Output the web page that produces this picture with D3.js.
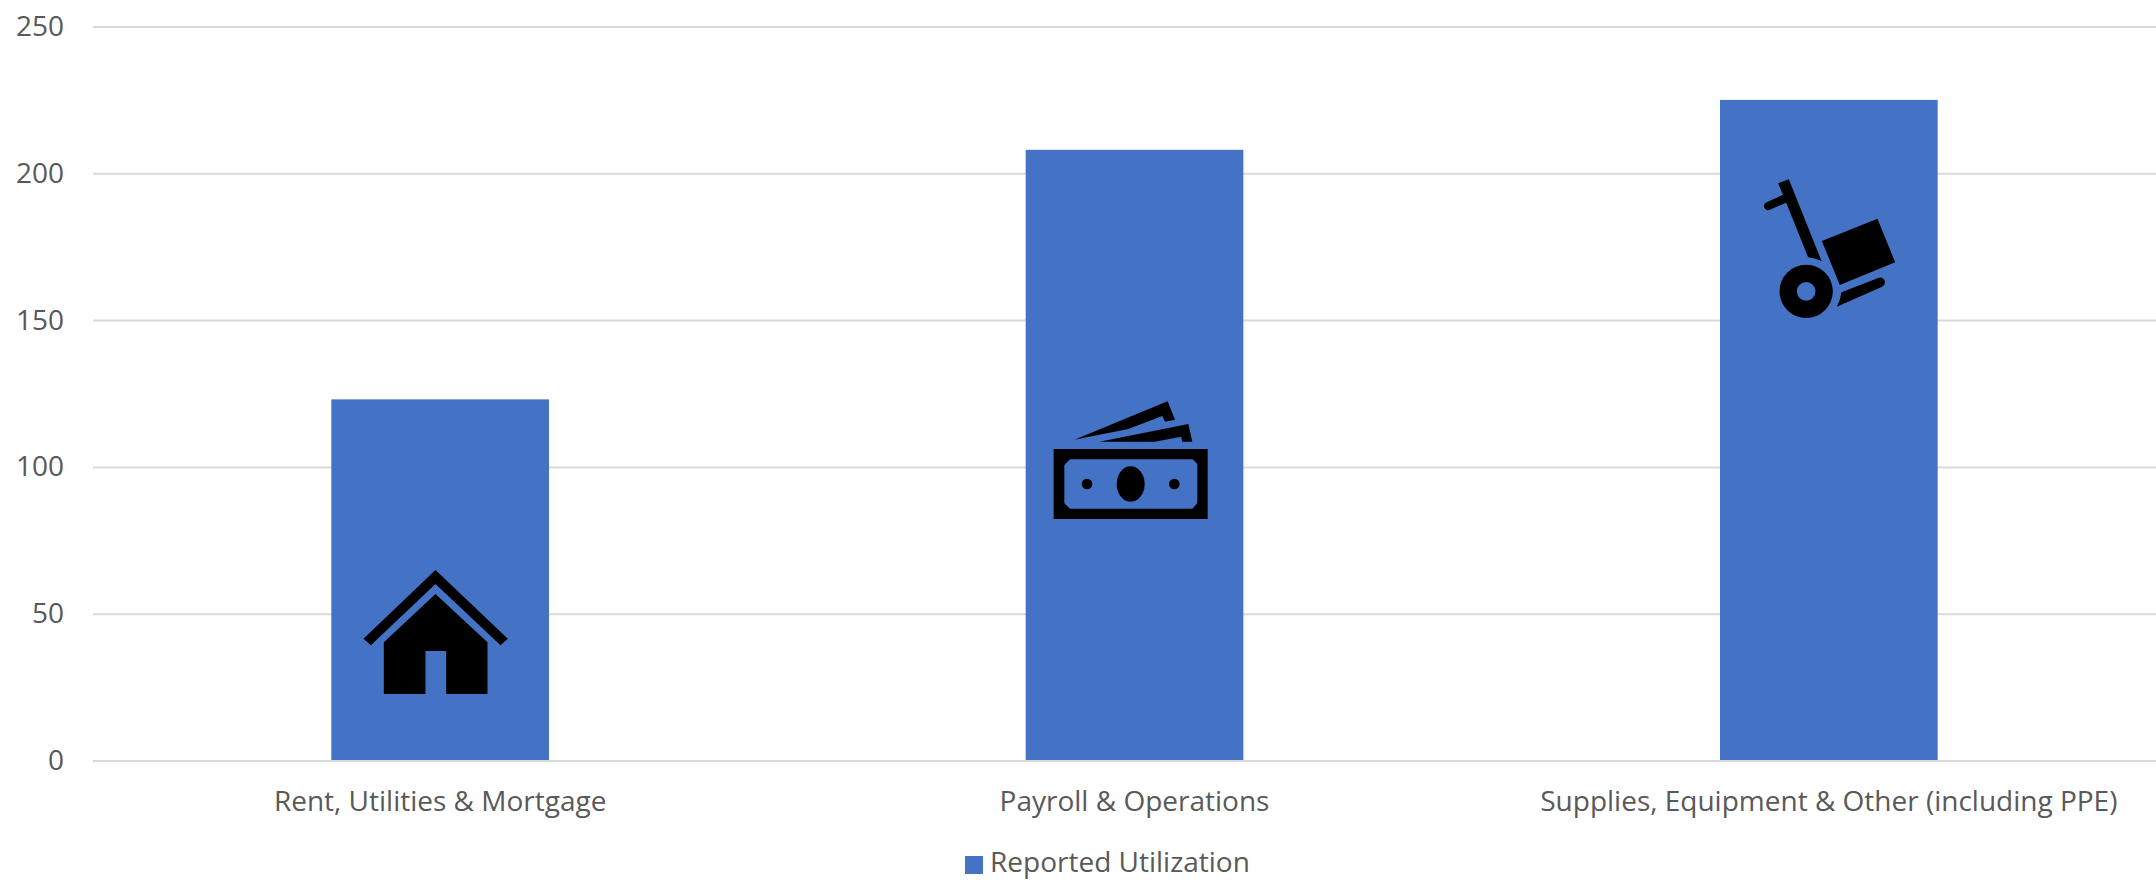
<!DOCTYPE html>
<html><head><meta charset="utf-8">
<script src="https://cdn.jsdelivr.net/npm/d3@7/dist/d3.min.js"></script>
<style>html,body{margin:0;padding:0;background:#fff;overflow:hidden}svg{display:block}text{font-family:"Open Sans",sans-serif;fill:#595959}</style>
</head><body><svg id="c" width="2156" height="880"></svg>
<script>
const categories=["Rent, Utilities & Mortgage","Payroll & Operations","Supplies, Equipment & Other (including PPE)"];
const values=[123,208,225];
const yTicks=[0,50,100,150,200,250];
const seriesName="Reported Utilization";

const svg=d3.select("#c");
const y=d3.scaleLinear().domain([0,250]).range([760.5,26.5]);
const p=0.6865;
const x=d3.scaleBand().domain(categories).range([93,2176]).paddingInner(p).paddingOuter(p/2);
const fs=28;

// grid
const yAxis=d3.axisLeft(y).tickValues(yTicks).tickSize(-2083).tickPadding(0);
const gy=svg.append("g").attr("transform","translate(93,0)").call(yAxis);
gy.select(".domain").remove();
gy.selectAll(".tick line").attr("stroke","#d9d9d9").attr("stroke-width",2);
gy.selectAll(".tick text").attr("x",-29).attr("font-size",fs).style("fill","#595959").attr("font-family",'"Open Sans",sans-serif');

// bars
svg.append("g").selectAll("rect").data(values).join("rect")
  .attr("x",(d,i)=>x(categories[i])).attr("width",x.bandwidth())
  .attr("y",d=>y(d)).attr("height",d=>y(0)-y(d)).attr("fill","#4472c4");

// x axis
const xAxis=d3.axisBottom(x).tickSize(0).tickPadding(0);
const gx=svg.append("g").attr("transform","translate(0,760.5)").call(xAxis);
gx.select(".domain").attr("stroke","#d9d9d9").attr("stroke-width",2);
gx.selectAll(".tick text").attr("y",31).attr("dy","0.71em").attr("font-size",fs).style("fill","#595959").attr("font-family",'"Open Sans",sans-serif');

// icons (drawn in 3x local units, anchored to bar centre and bar top)
const icons=[
 {dx:-100,dy:150.6,draw:g=>{
   g.append("path").attr("d","M286,60L503,266L481,286L286,102L92,286L70,266Z");
   g.append("path").attr("d","M286,132L442,277V432H318V303H256V432H131V277Z");
 }},
 {dx:-104.5,dy:240.2,draw:g=>{
   g.append("path").attr("fill-rule","evenodd").attr("d","M71,177H533V387H71ZM120,208L103,225V340L120,356H487L502,340V222L488,208Z");
   g.append("ellipse").attr("cx",302).attr("cy",282).attr("rx",42).attr("ry",53);
   g.append("circle").attr("cx",171).attr("cy",282).attr("r",16);
   g.append("circle").attr("cx",433).attr("cy",282).attr("r",16);
   g.append("path").attr("d","M133,149L413,34L435,89L405,95L397,78L295,117Z");
   g.append("path").attr("d","M208,155L475,102L487,155L457,155L453,140L375,155Z");
 }},
 {dx:-89,dy:65.1,draw:g=>{
   g.append("path").attr("d","M115,55L147,43L245,288Q225,279 205,277L142,120Z");
   g.append("path").attr("d","M85,123L135,101").attr("stroke","#000").attr("stroke-width",25).attr("stroke-linecap","round").attr("fill","none");
   g.append("path").attr("fill-rule","evenodd").attr("d","M119,379a80,80 0 1,0 160,0a80,80 0 1,0 -160,0ZM171,379a28,28 0 1,0 56,0a28,28 0 1,0 -56,0Z");
   g.append("path").attr("d","M246,228L413,161L466,292L300,360Z");
   g.append("path").attr("d","M305,382L415,339A14,14 0 0,1 427,365L291,425Q302,405 305,382Z");
 }}
];
icons.forEach((ic,i)=>{
  const cx=x(categories[i])+x.bandwidth()/2;
  const g=svg.append("g").attr("fill","#000")
    .attr("transform",`translate(${cx+ic.dx},${y(values[i])+ic.dy}) scale(${1/3})`);
  ic.draw(g);
});

// legend
const lg=svg.append("g");
lg.append("rect").attr("x",965).attr("y",856).attr("width",18).attr("height",18).attr("fill","#4472c4");
lg.append("text").attr("x",990).attr("y",872).attr("font-size",fs).text(seriesName);
</script></body></html>
